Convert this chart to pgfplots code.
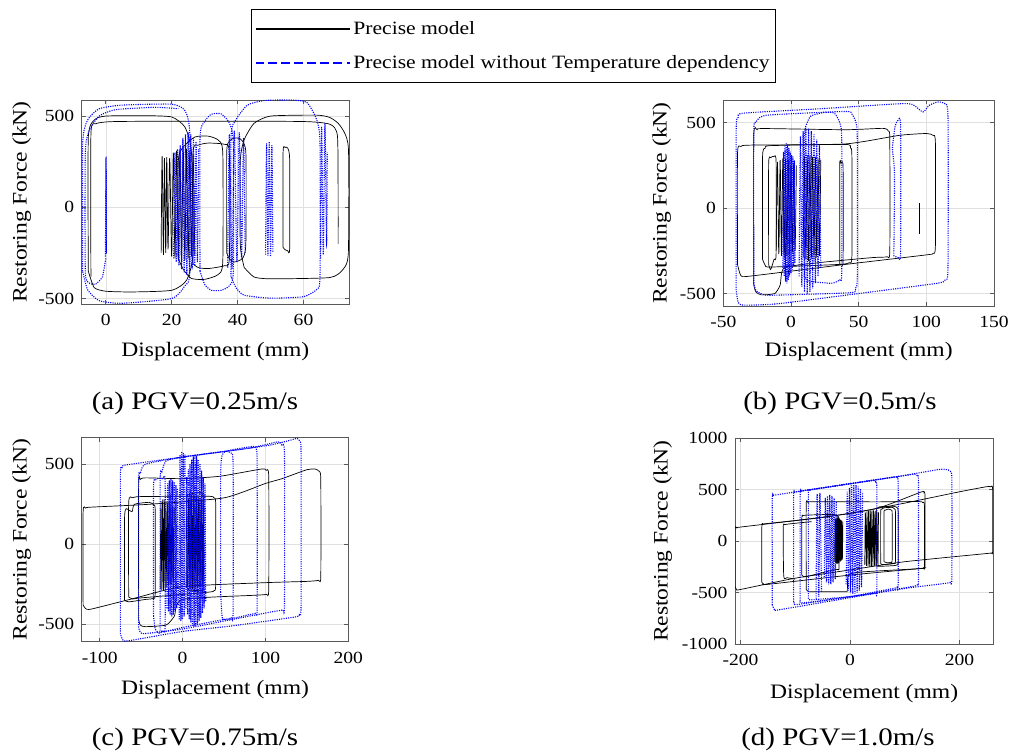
\documentclass[border=0pt]{standalone}
\usepackage{fontspec}
\setmainfont{Liberation Serif}[FakeStretch=1.15]
\usepackage{pgfplots}
\pgfplotsset{compat=1.18}
\newcommand\ticksize{\fontsize{17}{20}\selectfont}
\newcommand\labsize{\fontsize{20.5}{24}\selectfont}
\newcommand\legsize{\fontsize{18.8}{22}\selectfont}
\newcommand\capsize{\fontsize{25.2}{30}\selectfont}
\pgfplotsset{
  panel/.style={
    scale only axis,
    anchor=south west,
    axis line style={black!65, line width=0.6pt},
    every tick/.style={black!65, line width=0.6pt},
    major tick length=4pt,
    tick align=inside,
    xtick pos=both, ytick pos=both,
    grid=major,
    grid style={black!12, line width=0.5pt},
    ticklabel style={font=\ticksize},
    yticklabel style={xshift=-4pt},
    xticklabel style={yshift=-7pt},
    /pgf/number format/assume math mode=true,
    /pgf/number format/set thousands separator={},
    scaled ticks=false,
    xlabel={Displacement (mm)},
    ylabel={Restoring Force (kN)},
    label style={font=\labsize},
  },
  blk/.style={black, line width=0.7pt, smooth, tension=0.35},
  blu/.style={blue, line width=1.1pt, dash pattern=on 1.1pt off 1.2pt, smooth, tension=0.35},
  zb/.style={black, line width=0.7pt, smooth, tension=0.5},
  zu/.style={blue, line width=1.1pt, dash pattern=on 1.1pt off 1.2pt, smooth, tension=0.5},
}
\begin{document}
\begin{tikzpicture}[x=1pt,y=1pt]
\useasboundingbox (0,0) rectangle (1014,753);
% ---------------- (a) ----------------
\begin{axis}[panel, at={(81.7pt,449pt)}, width=267.3pt, height=204pt,
  xmin=-7.3, xmax=73.8, ymin=-530, ymax=588,
  xtick={0,20,40,60}, ytick={-500,0,500},
  xlabel style={at={(axis description cs:0.5,-0.235)}, anchor=center},
  ylabel style={at={(axis description cs:-0.224,0.5)}, anchor=center},
  legend style={at={(1.6154,1.446)}, anchor=north, draw=black, line width=0.6pt,
    font=\legsize, inner xsep=4pt, inner ysep=10pt, row sep=16pt},
  legend cell align=left,
  legend image code/.code={\path (0pt,0pt) -- (94pt,0pt); \draw[#1] (12pt,0pt) -- (83pt,0pt);},
]
\addlegendimage{black, line width=2pt}
\addlegendimage{blue, line width=2pt, dash pattern=on 8pt off 5pt}
\legend{Precise model, Precise model without Temperature dependency}
\addplot[blk] coordinates {(-5.3,-350) (-5.3,380) (-3.5,478) (0,500) (12,502) (20,495) (24,440) (26,300) (26.5,-250) (24.5,-400) (20,-455) (8,-464) (0,-460) (-3.5,-440) (-5.3,-350)};
\addplot[blk] coordinates {(-4.5,-380) (-4.5,400) (-3,458) (3,470) (30,472) (60,470) (68,455) (70.3,390) (70.5,0) (70.5,-200)};
\addplot[blk] coordinates {(42,-330) (40.8,-200) (40.8,250) (42,370) (45,460) (50,500) (64,505) (68,492) (71,450) (73.6,330) (73.6,-250) (72,-340) (68,-385) (50,-392) (45,-382) (42,-330)};
\addplot[blk] coordinates {(36.7,-250) (36.7,300) (37.5,362) (39,380) (41,372) (42.5,300) (42.5,-200) (41.5,-280) (39,-300) (37.5,-282) (36.7,-250)};
\addplot[blk] coordinates {(22,-280) (22,250) (23.5,330) (27,385) (31,390) (34,370) (35.5,300) (35.5,-300) (34,-370) (30,-395) (26,-390) (23.5,-340) (22,-280)};
\addplot[blk] coordinates {(26.5,-310) (26.5,300) (28,340) (31,352) (36,345) (37.5,300) (37.5,-280) (36,-320) (31,-336) (28,-330) (26.5,-310)};
\addplot[blk] coordinates {(53.8,-220) (53.8,300) (54.4,328) (55.2,325) (55.8,260) (55.8,-225) (55.2,-238) (54.4,-232) (53.8,-220)};
\addplot[zb] coordinates {(16.8,-250) (17.1,280) (17.5,-260) (17.8,270) (18.2,-250) (18.5,275) (18.9,-230) (19.4,270) (20,-270) (20.5,300) (21,-280) (21.5,310) (22,-290) (22.5,320) (23,-300) (23.5,325) (24,-290) (24.5,320) (25,-280) (25.5,310) (26,-270) (26.5,290) (27,-260)};
\addplot[zu] coordinates {(-0.1,-270) (0.1,280) (0.2,-250) (0.05,270) (0.15,-260)};
\addplot[blu] coordinates {(-7,-350) (-7,350) (-5.5,478) (-2,540) (5,560) (20,565) (24,530) (25.5,400) (25.5,-350) (24,-430) (20,-500) (5,-526) (-2,-512) (-5.5,-452) (-7,-350)};
\addplot[blu] coordinates {(0,-280) (-1,-380) (-3,-420) (-5,-415) (-6.2,-350) (-6.2,300) (-5,420) (-2,500) (3,535) (15,548) (22,540)};
\addplot[blu] coordinates {(28.6,-350) (28.6,380) (30,470) (32,510) (35,512) (37.5,462) (38.7,350) (38.7,-350) (37.5,-430) (35,-455) (32,-455) (30,-422) (28.6,-350)};
\addplot[blu] coordinates {(38,-380) (38,380) (39.5,480) (43,560) (48,585) (56,588) (61,575) (64,480) (65,350) (65,-380) (64,-450) (60,-490) (50,-498) (42,-482) (39.5,-440) (38,-380)};
\addplot[zu] coordinates {(48.5,-260) (48.8,350) (49.2,-265) (49.6,360) (50,-270) (50.4,340) (50.7,-250)};
\addplot[zu] coordinates {(65.2,-280) (65.5,440) (66,-260) (66.5,462) (67,-200) (67.2,300)};
\addplot[zu] coordinates {(37,-330) (37.5,400) (38.3,-340) (39,420) (39.8,-300) (40.5,410) (41.2,-280) (41.8,380) (42.3,-250)};
\addplot[zu] coordinates {(20.6,-280) (21,300) (21.4,-300) (21.8,320) (22.2,-320) (22.6,340) (23,-340) (23.4,380) (23.8,-360) (24.2,400) (24.6,-370) (25,410) (25.4,-360) (25.8,400) (26.2,-340) (26.6,380) (27,-320) (27.4,360) (27.8,-300) (28.2,320)};
\end{axis}
% ---------------- (b) ----------------
\begin{axis}[panel, at={(723.3pt,447pt)}, width=270.7pt, height=206pt,
  xmin=-50, xmax=150, ymin=-573, ymax=632,
  xtick={-50,0,50,100,150}, ytick={-500,0,500},
  xlabel style={at={(axis description cs:0.5,-0.222)}, anchor=center},
  ylabel style={at={(axis description cs:-0.2276,0.5)}, anchor=center},
]
\addplot[blk] coordinates {(-39.5,-330) (-39.5,320) (-37,360) (-30,368) (40,375) (80,425) (100,436) (105,425) (106.7,380) (106.7,-220) (105,-265) (100,-274) (40,-330) (-30,-398) (-37,-395) (-39.5,-330)};
\addplot[blk] coordinates {(-27.5,-450) (-27.5,420) (-25,458) (-20,465) (40,458) (68,466) (72,450) (73,400) (73,-250) (71,-285) (60,-290) (20,-320) (-5,-350) (-8,-450) (-12,-500) (-22,-508) (-26,-490) (-27.5,-450)};
\addplot[blk] coordinates {(-21,-300) (-21,300) (-19,350) (-15,365) (40,372) (44,352) (45,300) (45,-280) (43,-320) (35,-330) (-15,-345) (-19,-335) (-21,-300)};
\addplot[blk] coordinates {(-16.5,-330) (-16.5,260) (-15,295) (-12.5,302) (-11,270) (-11,-270) (-12.5,-300) (-15,-360) (-16.5,-330)};
\addplot[zb] coordinates {(-11,-250) (-10,270) (-9,-270) (-8,280) (-7,-280) (-6,290) (-5,-290) (-4,290) (-3,-280) (-2,280) (-1,-270) (0,270) (1,-260) (2,260) (3,-250) (4,250)};
\addplot[zb] coordinates {(9,-290) (10,300) (11,-300) (12,310) (13,-310) (14,310) (15,-300) (16,300) (17,-300) (18,300) (19,-290) (20,290) (21,-280) (22,280)};
\addplot[blk] coordinates {(36,-330) (36,250) (37,262) (38.5,240) (38.5,-300) (37.5,-330) (36,-330)};
\addplot[blk] coordinates {(95,-150) (95,30)};
\addplot[blu] coordinates {(-40.5,-480) (-40.5,450) (-39,530) (-35,555) (20,580) (80,610) (90,605) (97.5,562) (102,600) (108,620) (113,612) (116,540) (116,-350) (114,-420) (108,-440) (50,-500) (-10,-560) (-35,-568) (-39,-552) (-40.5,-480)};
\addplot[blu] coordinates {(-27.5,-440) (-27.5,440) (-26,500) (-23,530) (-15,545) (40,565) (45,550) (48,500) (49,400) (49,-400) (47.5,-470) (44,-495) (-15,-510) (-23,-498) (-26,-480) (-27.5,-440)};
\addplot[blu] coordinates {(10,-400) (10,400) (12,500) (15,540) (25,560) (32,555) (36,500) (37.5,400) (37.5,-380) (36,-420) (30,-440) (15,-430) (12,-420) (10,-400)};
\addplot[blu] coordinates {(76,-280) (76.5,200) (75,350) (77,480) (79,512) (81,480) (81,-260) (79.5,-290) (77.5,-285) (76,-280)};
\addplot[zu] coordinates {(-6,-350) (-5.5,330) (-5,-400) (-4.5,360) (-4,-430) (-3.5,380) (-3,-440) (-2.5,370) (-2,-420) (-1.5,350) (-1,-400) (-0.5,330) (0,-380) (0.5,310) (1,-360) (1.5,300) (2,-340) (2.5,280) (3,-320)};
\addplot[zu] coordinates {(6,-400) (7,420) (8,-460) (9,450) (10,-490) (11,470) (12,-500) (13,465) (14,-490) (15,450) (16,-470) (17,430) (18,-440) (19,400) (20,-400) (21,370) (22,-350)};
\end{axis}
% ---------------- (c) ----------------
\begin{axis}[panel, at={(81.7pt,111.3pt)}, width=266.6pt, height=204pt,
  xmin=-121.7, xmax=200, ymin=-609, ymax=666,
  xtick={-100,0,100,200}, ytick={-500,0,500},
  xlabel style={at={(axis description cs:0.5,-0.237)}, anchor=center},
  ylabel style={at={(axis description cs:-0.225,0.5)}, anchor=center},
]
\addplot[blk] coordinates {(-120,-380) (-120,200) (-117,226) (-110,232) (-40,250) (50,290) (100,380) (120,410) (150,466) (160,470) (165,455) (166.8,400) (166.8,-200) (164,-225) (150,-232) (100,-240) (0,-265) (-60,-340) (-110,-405) (-117,-402) (-120,-380)};
\addplot[blk] coordinates {(-53,-470) (-53,380) (-51,405) (-45,415) (0,410) (45,425) (95,470) (101,462) (104,420) (104,-280) (101,-312) (90,-318) (0,-345) (-10,-450) (-20,-505) (-45,-515) (-51,-505) (-53,-470)};
\addplot[blk] coordinates {(-70,-350) (-70,160) (-68,222) (-61,204) (-58,250) (-40,262) (-34,242) (-33,200) (-33,-300) (-35,-338) (-45,-345) (-65,-360) (-70,-350)};
\addplot[blk] coordinates {(-65,-330) (-65,260) (-60,290) (-50,298) (30,300) (38,290) (40,250) (40,-250) (38,-290) (30,-300) (-50,-335) (-60,-342) (-65,-330)};
\addplot[blk] coordinates {(5,-270) (5,270) (8,310) (20,322) (25,282) (25,-260) (22,-287) (8,-287) (5,-270)};
\addplot[zb] coordinates {(-27,-280) (-26,270) (-25,-290) (-24,280) (-23,-290) (-22,280) (-21,-280) (-20,270) (-19,-270) (-18,260) (-17,-260) (-16,260) (-15,-250) (-14,250) (-13,-240) (-12,240) (-11,-230) (-10,230)};
\addplot[zb] coordinates {(6,-260) (7,290) (8,-270) (9,300) (10,-280) (11,300) (12,-280) (13,300) (14,-280) (15,300) (16,-280) (17,300) (18,-270) (19,290) (20,-270) (21,290) (22,-260) (23,280) (24,-250) (25,270)};
\addplot[blu] coordinates {(-75,-560) (-75,420) (-73,480) (-68,496) (0,545) (100,615) (130,650) (138,662) (142,640) (143,560) (143,-380) (141,-440) (135,-455) (60,-510) (0,-545) (-65,-603) (-72,-598) (-75,-560)};
\addplot[blu] coordinates {(-53,-520) (-53,400) (-51,440) (-45,500) (0,545) (80,600) (115,640) (120,620) (123,560) (123,-380) (121,-410) (110,-420) (50,-480) (0,-530) (-45,-558) (-51,-550) (-53,-520)};
\addplot[blu] coordinates {(-27,-540) (-27,400) (-25,450) (-20,520) (0,545) (50,580) (58,570) (61,500) (61,-420) (59,-460) (50,-470) (0,-520) (-20,-545) (-25,-545) (-27,-540)};
\addplot[blu] coordinates {(46,-300) (46,440) (48,560) (55,585) (85,612) (89,595) (90,500) (90,-400) (88,-432) (80,-440) (55,-470) (48,-462) (46,-300)};
\addplot[blu] coordinates {(-35,-450) (-35,350) (-33,400) (-30,412) (-24,410) (-21,380) (-21,-500) (-23,-540) (-28,-556) (-33,-530) (-35,-450)};
\addplot[zu] coordinates {(-19,-400) (-18,380) (-17,-420) (-16,400) (-15,-440) (-14,410) (-13,-450) (-12,400) (-11,-440) (-10,390) (-9,-420) (-8,370) (-7,-400) (-6,350) (-5,-380)};
\addplot[zu] coordinates {(4,-400) (5,420) (6,-440) (7,470) (8,-470) (9,500) (10,-490) (11,530) (12,-510) (13,550) (14,-515) (15,560) (16,-510) (17,550) (18,-500) (19,530) (20,-480) (21,500) (22,-460) (23,460) (24,-430) (25,420) (26,-400) (27,380) (28,-360)};
\addplot[zu] coordinates {(-4,-470) (-3,560) (-2,-480) (-1,580) (0,-470) (1,570) (2,-450) (3,560)};
\end{axis}
% ---------------- (d) ----------------
\begin{axis}[panel, at={(735pt,109pt)}, width=258.3pt, height=205.7pt,
  xmin=-210, xmax=261.7, ymin=-1000, ymax=1000,
  xtick={-200,0,200}, ytick={-1000,-500,0,500,1000},
  xlabel style={at={(axis description cs:0.5,-0.24)}, anchor=center},
  ylabel style={at={(axis description cs:-0.28,0.5)}, anchor=center},
]
\addplot[blk] coordinates {(-210,-440) (-210,110) (-207,130) (-200,137) (-100,200) (0,270) (100,370) (200,480) (250,530) (257,528) (260.6,500) (260.6,-90) (258,-115) (250,-120) (100,-200) (0,-280) (-100,-360) (-200,-470) (-207,-472) (-210,-440)};
\addplot[blk] coordinates {(-161,-400) (-161,140) (-158,165) (-150,172) (-50,230) (50,320) (130,478) (135,470) (137,430) (137,-230) (135,-258) (130,-265) (0,-330) (-150,-420) (-158,-416) (-161,-400)};
\addplot[blk] coordinates {(-100,-370) (-115,-355) (-121,-340) (-122,140) (-119,160) (-110,168) (-70,190)};
\addplot[blk] coordinates {(-80,-470) (-80,350) (-77,378) (-70,384) (50,382) (125,385) (133,375) (136,340) (136,-240) (134,-262) (125,-268) (20,-300) (-3,-330) (-5,-480) (-10,-492) (-70,-492) (-77,-487) (-80,-470)};
\addplot[blk] coordinates {(-88,-330) (-88,220) (-86,245) (-80,253) (-30,260) (-22,240) (-20,200) (-20,-250) (-22,-275) (-30,-280) (-80,-345) (-86,-340) (-88,-330)};
\addplot[zb] coordinates {(-28,-200) (-27,220) (-26,-210) (-25,230) (-24,-220) (-23,230) (-22,-220) (-21,230) (-20,-210) (-19,220) (-18,-200) (-17,210) (-16,-190) (-15,200) (-14,-180) (-13,190)};
\addplot[zb] coordinates {(27,-230) (28,280) (30,-240) (31,290) (33,-245) (34,295) (36,-250) (37,300) (39,-250) (40,300) (42,-245) (43,300) (45,-240) (46,295) (48,-235) (49,290) (51,-230) (52,280)};
\addplot[blk] coordinates {(48,-240) (48,290) (50,320) (55,335) (80,338) (86,325) (88,280) (88,-200) (86,-230) (80,-238) (55,-245) (50,-245) (48,-240)};
\addplot[blk] coordinates {(56,-220) (56,280) (58,310) (63,325) (78,328) (82,310) (83,270) (83,-190) (81,-215) (75,-222) (60,-228) (56,-220)};
\addplot[blk] coordinates {(62,-200) (62,270) (64,300) (70,312) (76,300) (77,260) (77,-180) (75,-205) (68,-210) (62,-200)};
\addplot[blu] coordinates {(-142,-620) (-142,400) (-140,440) (-135,450) (0,560) (100,640) (160,695) (175,698) (183,680) (186,600) (186,-360) (183,-400) (175,-410) (100,-460) (0,-550) (-130,-668) (-138,-665) (-142,-620)};
\addplot[blu] coordinates {(-103,-590) (-103,430) (-101,470) (-95,482) (0,558) (100,638) (118,652) (123,635) (125,580) (125,-380) (123,-415) (115,-440) (0,-540) (-95,-615) (-101,-610) (-103,-590)};
\addplot[blu] coordinates {(-91,-580) (-91,440) (-89,480) (-85,490) (0,558) (80,622) (85,615) (88,560) (88,-420) (86,-450) (80,-458) (0,-540) (-85,-600) (-91,-580)};
\addplot[blu] coordinates {(-76,-560) (-76,450) (-74,490) (-70,500) (0,558) (43,590) (47,575) (49,510) (49,-480) (47,-505) (40,-510) (0,-540) (-70,-570) (-76,-560)};
\addplot[zu] coordinates {(-47,-350) (-45,420) (-43,-400) (-41,440) (-39,-420) (-37,450) (-35,-420) (-33,440) (-31,-400) (-29,420) (-27,-370) (-25,390)};
\addplot[zu] coordinates {(-7,-420) (-5,480) (-3,-480) (-1,520) (1,-500) (3,545) (5,-510) (7,550) (9,-510) (11,545) (13,-500) (15,530) (17,-480) (19,510) (21,-450) (23,480)};
\addplot[zu] coordinates {(-62,-560) (-60,460) (-57,-540) (-55,470) (-52,-500)};
\end{axis}
% captions
\node[font=\capsize, anchor=base] at (195,343) {(a) PGV=0.25m/s};
\node[font=\capsize, anchor=base] at (840,343) {(b) PGV=0.5m/s};
\node[font=\capsize, anchor=base] at (195,8) {(c) PGV=0.75m/s};
\node[font=\capsize, anchor=base] at (838,8) {(d) PGV=1.0m/s};
\end{tikzpicture}
\end{document}
